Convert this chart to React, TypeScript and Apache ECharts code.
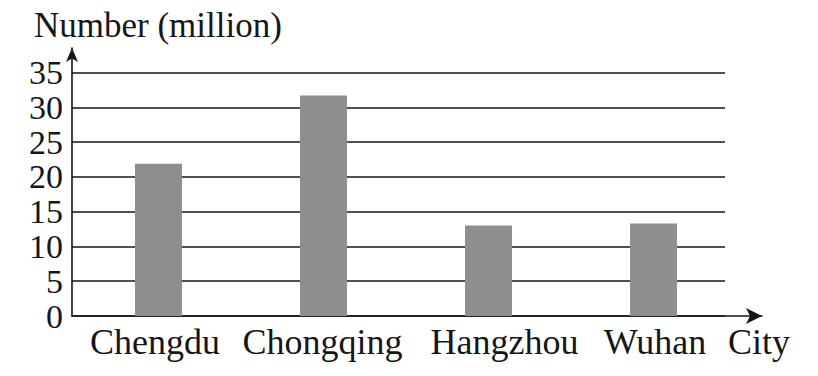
import React, { useEffect, useRef } from "react";
import * as echarts from "echarts";

const categories = ["Chengdu", "Chongqing", "Hangzhou", "Wuhan"];
const values = [21.9, 31.7, 13.0, 13.3];
const yTicks = [0, 5, 10, 15, 20, 25, 30, 35];
const yTitle = "Number (million)";
const xTitle = "City";

const FONT = "'Liberation Serif', 'Times New Roman', serif";
const INK = "#161616";

export default function App() {
  const ref = useRef<HTMLDivElement>(null);
  useEffect(() => {
    if (!ref.current) return;
    const chart = echarts.init(ref.current, null, { renderer: "svg" });
    const labelStyle = { fontFamily: FONT, fontSize: 36, color: INK };
    const option: any = {
      animation: false,
      backgroundColor: "#ffffff",
      title: {
        text: yTitle,
        left: 29,
        top: 3,
        textStyle: { fontFamily: FONT, fontSize: 35, fontWeight: "normal", color: INK },
      },
      grid: [
        { left: 72, right: 93, top: 72.5, bottom: 60 },
        { left: 72, right: 56, top: 48, bottom: 60 },
      ],
      xAxis: [
        {
          type: "value",
          gridIndex: 0,
          min: -0.524,
          max: 3.433,
          axisLine: { show: false },
          axisTick: { show: false },
          splitLine: { show: false },
          axisLabel: {
            customValues: categories.map((_, i) => i),
            formatter: (v: number) => {
              const i = Math.round(v);
              const name = categories[i] ?? "";
              return ["{a|" + name + "}", "{b|" + name + "}", "{c|" + name + "}", "{d|" + name + "}"][i] ?? "";
            },
            ...labelStyle,
            margin: 8,
            rich: {
              a: { ...labelStyle, padding: [0, 7, 0, 0] },
              b: { ...labelStyle, padding: [0, 2, 0, 0] },
              c: { ...labelStyle, padding: [0, 0, 0, 32] },
              d: { ...labelStyle, padding: [0, 0, 0, 3] },
            },
          },
        },
        {
          type: "value",
          gridIndex: 1,
          min: 0,
          max: 1,
          axisLine: {
            show: true,
            symbol: ["none", "arrow"],
            symbolSize: [12, 16],
            lineStyle: { color: INK, width: 1.6 },
          },
          axisTick: { show: false },
          axisLabel: { show: false },
          splitLine: { show: false },
          name: xTitle,
          nameLocation: "end",
          nameGap: -3,
          nameTextStyle: {
            ...labelStyle,
            align: "center",
            verticalAlign: "top",
            padding: [8, 0, 0, 0],
          },
        },
      ],
      yAxis: [
        {
          type: "value",
          gridIndex: 0,
          min: 0,
          max: 35,
          interval: 5,
          axisLine: { show: false },
          axisTick: { show: false },
          splitLine: { show: true, lineStyle: { color: INK, width: 1.6 } },
          axisLabel: {
            fontFamily: FONT,
            fontSize: 34,
            color: INK,
            margin: 9,
            formatter: (v: number) => (yTicks.includes(v) ? String(v) : ""),
          },
        },
        {
          type: "value",
          gridIndex: 1,
          min: 0,
          max: 1,
          axisLine: {
            show: true,
            symbol: ["none", "arrow"],
            symbolSize: [9, 14],
            lineStyle: { color: INK, width: 1.6 },
          },
          axisTick: { show: false },
          axisLabel: { show: false },
          splitLine: { show: false },
        },
      ],
      series: [
        {
          type: "bar",
          xAxisIndex: 0,
          yAxisIndex: 0,
          barWidth: 47,
          data: values.map((v, i) => [i, v]),
          itemStyle: { color: "#8e8e8e" },
        },
      ],
    };
    chart.setOption(option);
    return () => chart.dispose();
  }, []);
  return (
    <div
      ref={ref}
      style={{ position: "fixed", left: 0, top: 0, width: 818, height: 376, background: "#fff" }}
    />
  );
}
